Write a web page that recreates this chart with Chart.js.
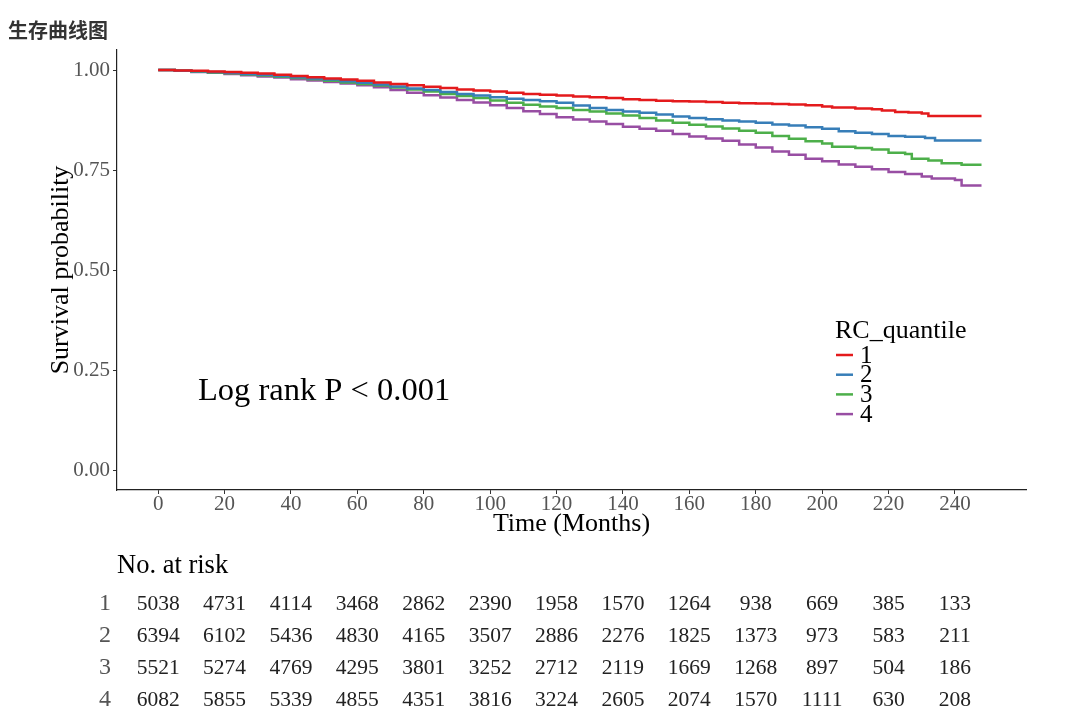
<!DOCTYPE html>
<html><head><meta charset="utf-8">
<script src="https://cdn.jsdelivr.net/npm/chart.js@4.4.0/dist/chart.umd.min.js"></script>
<style>html,body{margin:0;padding:0;background:#fff}#wrap{width:1080px;height:717px;position:relative}</style>
</head><body><div id="wrap"><canvas id="c"></canvas></div>
<script>
const chartTitle = "生存曲线图";
const groupNames = ["1","2","3","4"];
const colors = ["#E41A1C","#377EB8","#4DAF4A","#984EA3"];
const xTicks = [0,20,40,60,80,100,120,140,160,180,200,220,240];
const yTicks = [0,0.25,0.5,0.75,1];

const t1 = [0,5,10,15,20,25,30,35,40,45,50,55,60,65,70,75,80,85,90,95,100,105,110,115,120,125,130,135,140,145,150,155,160,165,170,175,180,185,190,195,200,203,210,215,218,222,226,230,232,248];
const s1 = [1.000,0.999,0.998,0.996,0.995,0.993,0.991,0.988,0.985,0.982,0.979,0.976,0.973,0.969,0.965,0.962,0.958,0.955,0.951,0.949,0.946,0.943,0.940,0.938,0.936,0.934,0.932,0.930,0.927,0.925,0.923,0.922,0.921,0.920,0.918,0.917,0.916,0.915,0.914,0.912,0.909,0.906,0.904,0.902,0.899,0.895,0.894,0.891,0.885,0.885];

const t2 = [0,5,10,15,20,25,30,35,40,45,50,55,60,65,70,75,80,85,90,95,100,105,110,115,120,125,130,135,140,145,150,155,160,165,170,175,180,185,190,195,200,205,210,215,220,225,231,234,248];
const s2 = [1.000,0.998,0.997,0.995,0.993,0.990,0.988,0.985,0.982,0.979,0.976,0.972,0.968,0.964,0.959,0.954,0.950,0.945,0.940,0.936,0.932,0.928,0.925,0.922,0.918,0.911,0.905,0.900,0.896,0.893,0.889,0.884,0.880,0.877,0.874,0.871,0.868,0.864,0.861,0.857,0.853,0.847,0.843,0.840,0.835,0.833,0.830,0.824,0.824];

const t3 = [0,5,10,15,20,25,30,35,40,45,50,55,60,65,70,75,80,85,90,95,100,105,110,115,120,125,130,135,140,145,150,155,160,165,170,175,180,185,190,195,200,203,210,215,220,225,227,232,236,242,248];
const s3 = [1.000,0.998,0.996,0.994,0.992,0.989,0.986,0.983,0.980,0.977,0.973,0.969,0.965,0.961,0.956,0.951,0.946,0.940,0.935,0.930,0.924,0.918,0.913,0.909,0.905,0.900,0.896,0.891,0.886,0.880,0.874,0.868,0.863,0.859,0.854,0.848,0.843,0.835,0.828,0.822,0.816,0.808,0.805,0.801,0.793,0.790,0.778,0.774,0.767,0.763,0.763];

const t4 = [0,5,10,15,20,25,30,35,40,45,50,55,60,65,70,75,80,85,90,95,100,105,110,115,120,125,130,135,140,145,150,155,160,165,170,175,180,185,190,195,200,205,210,215,220,225,230,233,240,242,248];
const s4 = [1.000,0.998,0.995,0.993,0.990,0.987,0.984,0.981,0.977,0.974,0.970,0.966,0.962,0.957,0.950,0.943,0.937,0.931,0.925,0.919,0.912,0.905,0.897,0.890,0.882,0.876,0.871,0.865,0.858,0.853,0.848,0.840,0.834,0.829,0.823,0.814,0.806,0.796,0.788,0.778,0.772,0.764,0.758,0.752,0.745,0.740,0.734,0.729,0.725,0.711,0.711];

const risk1 = [5038,4731,4114,3468,2862,2390,1958,1570,1264,938,669,385,133];
const risk2 = [6394,6102,5436,4830,4165,3507,2886,2276,1825,1373,973,583,211];
const risk3 = [5521,5274,4769,4295,3801,3252,2712,2119,1669,1268,897,504,186];
const risk4 = [6082,5855,5339,4855,4351,3816,3224,2605,2074,1570,1111,630,208];

const times = [t1,t2,t3,t4];
const surv = [s1,s2,s3,s4];
const risks = [risk1,risk2,risk3,risk4];

const SERIF = "'Liberation Serif','DejaVu Serif',serif";

const datasets = groupNames.map((g,i)=>({
  label: g,
  data: times[i].map((t,j)=>({x:t,y:surv[i][j]})),
  borderColor: colors[i],
  backgroundColor: colors[i],
  borderWidth: 2.5,
  pointRadius: 0,
  stepped: 'before',
  fill: false
}));

const overlay = {
  id:'overlay',
  afterDraw(chart){
    const ctx = chart.ctx;
    const xs = chart.scales.x;
    ctx.save();
    ctx.fillStyle = '#333';
    ctx.font = "bold 20px 'Noto Sans CJK SC'";
    ctx.textBaseline = 'middle'; ctx.textAlign = 'left';
    ctx.fillText(chartTitle, 8, 30);
    ctx.fillStyle = '#000';
    ctx.font = "32.5px " + SERIF;
    ctx.fillText("Log rank P < 0.001", 198, 391);
    ctx.font = "26px " + SERIF;
    ctx.fillText("RC_quantile", 835, 331);
    ctx.font = "25px " + SERIF;
    groupNames.forEach((g,i)=>{
      const y = 355 + i*19.7;
      ctx.strokeStyle = colors[i]; ctx.lineWidth = 2.5;
      ctx.beginPath(); ctx.moveTo(836,y); ctx.lineTo(853,y); ctx.stroke();
      ctx.fillStyle = '#000';
      ctx.fillText(g, 860, y+1);
    });
    ctx.font = "26.5px " + SERIF;
    ctx.fillText("No. at risk", 117, 566);
    const rowY = [604,636,668,700];
    risks.forEach((r,i)=>{
      ctx.textAlign = 'center';
      ctx.fillStyle = '#555';
      ctx.font = "24px " + SERIF;
      ctx.fillText(groupNames[i], 105, rowY[i]);
      ctx.fillStyle = '#222';
      ctx.font = "21.5px " + SERIF;
      r.forEach((v,j)=>{
        ctx.fillText(String(v), xs.getPixelForValue(xTicks[j]), rowY[i]);
      });
    });
    ctx.restore();
  }
};

new Chart(document.getElementById('c'), {
  type:'line',
  data:{datasets},
  plugins:[overlay],
  options:{
    animation:false,
    responsive:true,
    maintainAspectRatio:false,
    layout:{padding:{left:0,top:50,right:54,bottom:177}},
    plugins:{legend:{display:false},tooltip:{enabled:false}},
    scales:{
      x:{
        type:'linear', min:-12.4, max:261.4,
        afterBuildTicks(a){ a.ticks = xTicks.map(v=>({value:v})); },
        afterFit(a){ a.height = 50; },
        grid:{display:true, drawOnChartArea:false, drawTicks:true, tickLength:4, color:'#333', lineWidth:1},
        border:{display:true, color:'#222', width:1.2},
        ticks:{color:'#555', font:{family:SERIF, size:21}, padding:-2, maxRotation:0, autoSkip:false},
        title:{display:true, text:'Time (Months)', color:'#000', font:{family:SERIF, size:26}, padding:{top:0,bottom:0}}
      },
      y:{
        type:'linear', min:-0.05, max:1.05,
        afterBuildTicks(a){ a.ticks = yTicks.map(v=>({value:v})); },
        afterFit(a){ a.width = 117; },
        grid:{display:true, drawOnChartArea:false, drawTicks:true, tickLength:4, color:'#333', lineWidth:1},
        border:{display:true, color:'#222', width:1.2},
        ticks:{color:'#555', font:{family:SERIF, size:21}, padding:3, callback:v=>Number(v).toFixed(2)},
        title:{display:true, text:'Survival probability', color:'#000', font:{family:SERIF, size:26}, padding:{top:46,bottom:0}}
      }
    }
  }
});
</script></body></html>
